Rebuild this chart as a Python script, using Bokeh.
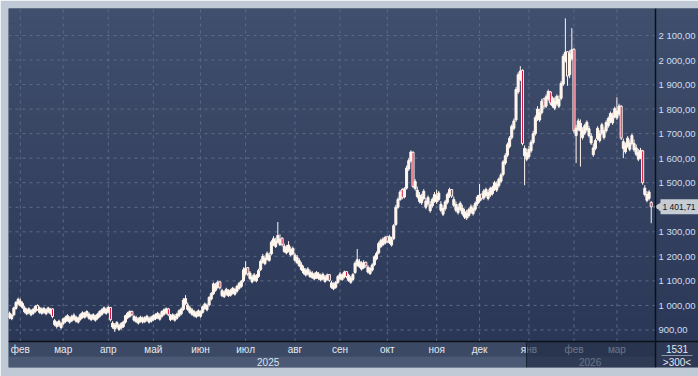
import math
from bokeh.plotting import figure
from bokeh.models import BoxAnnotation, Label, ColumnDataSource, Range1d, Span
from bokeh.core.properties import value
from bokeh.embed import file_html
from bokeh.resources import INLINE
import pandas as pd

# ---------------- data ----------------
OPEN = [
    950, 946, 962, 988, 1006, 1000, 992, 974, 966, 970,
    962, 968, 976, 1000, 972, 968, 972, 966, 974, 968,
    986, 922, 914, 920, 910, 926, 934, 940, 932, 938,
    944, 936, 932, 944, 952, 952, 958, 948, 942, 946,
    940, 948, 956, 964, 972, 968, 974, 992, 912, 904,
    912, 902, 908, 914, 932, 950, 956, 976, 940, 934,
    928, 936, 932, 934, 940, 932, 936, 942, 946, 950,
    944, 956, 964, 970, 986, 942, 946, 940, 948, 958,
    966, 984, 1008, 984, 972, 964, 958, 954, 960, 956,
    972, 988, 982, 1002, 1026, 1048, 1062, 1074, 1096, 1040,
    1036, 1046, 1040, 1042, 1050, 1046, 1058, 1070, 1078, 1100,
    1128, 1154, 1110, 1096, 1104, 1100, 1118, 1146, 1176, 1170,
    1188, 1184, 1210, 1248, 1240, 1258, 1248, 1274, 1220, 1214,
    1222, 1206, 1210, 1184, 1174, 1162, 1146, 1132, 1124, 1128,
    1118, 1114, 1108, 1114, 1110, 1104, 1108, 1098, 1106, 1126,
    1074, 1068, 1074, 1094, 1108, 1106, 1116, 1138, 1102, 1094,
    1106, 1134, 1164, 1158, 1148, 1154, 1176, 1136, 1130, 1144,
    1166, 1190, 1214, 1240, 1248, 1254, 1280, 1256, 1246, 1272,
    1330, 1400, 1432, 1472, 1442, 1478, 1556, 1590, 1624, 1476,
    1444, 1424, 1418, 1436, 1400, 1414, 1386, 1406, 1426, 1422,
    1432, 1388, 1372, 1394, 1420, 1446, 1472, 1408, 1388, 1378,
    1392, 1374, 1360, 1356, 1366, 1380, 1374, 1392, 1414, 1426,
    1454, 1438, 1448, 1436, 1450, 1456, 1474, 1470, 1488, 1506,
    1534, 1580, 1612, 1648, 1684, 1722, 1756, 1870, 1922, 1958,
    1610, 1596, 1606, 1630, 1664, 1700, 1760, 1756, 1786, 1842,
    1812, 1842, 1870, 1814, 1804, 1822, 1812, 1844, 1902, 1998,
    2034, 1940, 2006, 2044, 1692, 1718, 1712, 1684, 1702, 1716,
    1692, 1662, 1614, 1640, 1680, 1672, 1702, 1684, 1712, 1732,
    1750, 1744, 1770, 1764, 1780, 1812, 1640, 1626, 1650, 1636,
    1660, 1634, 1616, 1596, 1604, 1630, 1452, 1428, 1436, 1420,
]
HIGH = [
    975, 966, 995, 1018, 1032, 1028, 1016, 998, 990, 992,
    985, 990, 1002, 1004, 996, 992, 994, 988, 995, 990,
    988, 945, 936, 942, 932, 950, 958, 964, 956, 962,
    968, 958, 955, 968, 976, 974, 980, 972, 965, 968,
    962, 970, 980, 988, 996, 992, 998, 994, 936, 928,
    936, 926, 932, 938, 962, 974, 980, 978, 962, 958,
    952, 958, 955, 956, 962, 955, 958, 964, 968, 974,
    968, 980, 988, 992, 990, 965, 968, 964, 970, 984,
    992, 1030, 1042, 1012, 998, 990, 982, 978, 984, 980,
    1000, 1012, 1008, 1038, 1055, 1094, 1092, 1102, 1098, 1068,
    1062, 1072, 1066, 1068, 1076, 1072, 1084, 1096, 1104, 1155,
    1180, 1156, 1140, 1126, 1132, 1128, 1150, 1188, 1210, 1204,
    1220, 1216, 1266, 1282, 1276, 1340, 1290, 1278, 1252, 1246,
    1262, 1240, 1240, 1214, 1206, 1192, 1176, 1162, 1152, 1156,
    1146, 1140, 1134, 1140, 1136, 1130, 1134, 1124, 1130, 1128,
    1100, 1094, 1100, 1124, 1136, 1132, 1142, 1140, 1130, 1120,
    1132, 1180, 1230, 1190, 1180, 1184, 1178, 1164, 1158, 1172,
    1204, 1220, 1260, 1272, 1278, 1284, 1282, 1288, 1280, 1332,
    1410, 1440, 1470, 1478, 1482, 1570, 1600, 1632, 1628, 1515,
    1484, 1462, 1455, 1474, 1438, 1448, 1425, 1440, 1462, 1472,
    1466, 1425, 1408, 1430, 1460, 1480, 1474, 1444, 1424, 1414,
    1424, 1410, 1394, 1390, 1398, 1412, 1408, 1424, 1450, 1495,
    1456, 1474, 1480, 1472, 1484, 1488, 1508, 1506, 1522, 1540,
    1592, 1620, 1664, 1690, 1738, 1762, 1890, 1950, 1975, 1962,
    1652, 1640, 1650, 1675, 1712, 1775, 1812, 1802, 1842, 1846,
    1860, 1880, 1874, 1852, 1848, 1860, 1856, 1915, 2025, 2170,
    2036, 2040, 2130, 2048, 1735, 1762, 1758, 1726, 1740, 1754,
    1732, 1702, 1660, 1680, 1730, 1714, 1744, 1726, 1754, 1770,
    1790, 1786, 1810, 1848, 1822, 1816, 1680, 1664, 1690, 1676,
    1700, 1676, 1656, 1638, 1642, 1634, 1490, 1466, 1470, 1425,
]
LOW = [
    944, 940, 956, 982, 1000, 994, 986, 968, 960, 964,
    956, 962, 970, 978, 966, 962, 966, 960, 968, 962,
    948, 915, 906, 912, 902, 920, 928, 934, 926, 932,
    938, 930, 926, 938, 946, 946, 952, 942, 936, 940,
    934, 942, 950, 958, 966, 962, 968, 935, 905, 892,
    906, 896, 902, 908, 926, 944, 950, 956, 934, 928,
    922, 930, 926, 928, 934, 926, 930, 936, 940, 944,
    938, 950, 958, 964, 956, 936, 940, 934, 942, 952,
    960, 978, 1002, 978, 966, 958, 952, 948, 954, 950,
    966, 982, 976, 996, 1020, 1042, 1056, 1068, 1065, 1034,
    1030, 1040, 1034, 1036, 1044, 1040, 1052, 1064, 1072, 1094,
    1122, 1120, 1104, 1090, 1098, 1094, 1112, 1140, 1170, 1164,
    1182, 1178, 1204, 1242, 1234, 1252, 1242, 1240, 1214, 1208,
    1216, 1200, 1204, 1178, 1168, 1156, 1140, 1126, 1118, 1122,
    1112, 1108, 1102, 1108, 1104, 1098, 1102, 1092, 1100, 1096,
    1068, 1062, 1068, 1088, 1102, 1100, 1110, 1110, 1096, 1088,
    1100, 1128, 1158, 1152, 1142, 1148, 1154, 1130, 1124, 1138,
    1160, 1184, 1208, 1234, 1242, 1248, 1254, 1250, 1240, 1266,
    1324, 1394, 1426, 1432, 1436, 1472, 1548, 1582, 1478, 1468,
    1436, 1416, 1410, 1428, 1392, 1406, 1378, 1398, 1418, 1414,
    1424, 1380, 1364, 1386, 1412, 1438, 1438, 1400, 1380, 1370,
    1384, 1366, 1352, 1348, 1358, 1372, 1366, 1384, 1406, 1418,
    1428, 1430, 1440, 1428, 1442, 1448, 1466, 1462, 1480, 1498,
    1526, 1572, 1604, 1640, 1676, 1714, 1748, 1862, 1914, 1652,
    1490, 1588, 1598, 1622, 1656, 1692, 1752, 1748, 1778, 1800,
    1804, 1834, 1816, 1806, 1796, 1814, 1804, 1836, 1894, 1990,
    1895, 1926, 1998, 1700, 1580, 1710, 1566, 1676, 1694, 1708,
    1684, 1654, 1606, 1632, 1672, 1664, 1694, 1676, 1704, 1724,
    1742, 1736, 1762, 1756, 1772, 1674, 1600, 1618, 1642, 1628,
    1652, 1626, 1608, 1588, 1596, 1492, 1444, 1420, 1428, 1335,
]
CLOSE = [
    968, 960, 990, 1012, 1025, 1018, 1008, 990, 982, 986,
    978, 984, 996, 984, 990, 985, 988, 982, 990, 984,
    955, 938, 930, 936, 925, 945, 950, 958, 948, 955,
    960, 952, 948, 962, 970, 968, 975, 965, 958, 962,
    956, 964, 975, 982, 990, 984, 992, 942, 928, 920,
    930, 918, 925, 932, 958, 968, 975, 962, 955, 950,
    944, 952, 948, 950, 956, 948, 952, 958, 962, 968,
    960, 975, 982, 986, 962, 958, 962, 956, 965, 978,
    985, 1022, 1028, 1002, 990, 982, 975, 970, 978, 972,
    995, 1006, 1000, 1032, 1048, 1088, 1082, 1095, 1072, 1060,
    1055, 1066, 1058, 1062, 1070, 1065, 1078, 1090, 1098, 1145,
    1152, 1128, 1132, 1116, 1124, 1120, 1142, 1180, 1200, 1192,
    1212, 1205, 1258, 1272, 1262, 1285, 1270, 1248, 1242, 1235,
    1246, 1228, 1232, 1205, 1195, 1182, 1165, 1150, 1142, 1148,
    1136, 1132, 1125, 1134, 1128, 1122, 1126, 1116, 1124, 1102,
    1092, 1086, 1094, 1118, 1128, 1124, 1136, 1118, 1122, 1112,
    1126, 1172, 1186, 1178, 1168, 1175, 1162, 1156, 1150, 1165,
    1198, 1212, 1252, 1264, 1270, 1276, 1262, 1280, 1268, 1325,
    1400, 1432, 1462, 1440, 1475, 1560, 1590, 1625, 1485, 1505,
    1470, 1450, 1442, 1465, 1425, 1440, 1410, 1432, 1452, 1446,
    1458, 1412, 1395, 1422, 1452, 1472, 1446, 1432, 1412, 1400,
    1416, 1396, 1382, 1376, 1390, 1402, 1396, 1416, 1442, 1450,
    1436, 1466, 1472, 1460, 1476, 1480, 1500, 1495, 1515, 1532,
    1585, 1610, 1655, 1682, 1730, 1752, 1880, 1940, 1955, 1660,
    1640, 1622, 1636, 1665, 1700, 1765, 1800, 1785, 1832, 1812,
    1850, 1872, 1825, 1845, 1832, 1852, 1840, 1905, 2015, 2032,
    1935, 2025, 2042, 1712, 1722, 1752, 1742, 1712, 1732, 1746,
    1720, 1690, 1642, 1672, 1722, 1700, 1736, 1712, 1745, 1762,
    1782, 1772, 1802, 1792, 1812, 1682, 1668, 1652, 1682, 1662,
    1692, 1660, 1642, 1622, 1632, 1500, 1478, 1452, 1462, 1401.71,
]
FIRST_DAY = "2025-01-27"
HOLIDAYS = ["2025-04-18", "2026-01-01"]
MONTH_LABELS = ["фев", "мар", "апр", "май", "июн", "июл", "авг", "сен",
                "окт", "ноя", "дек", "янв", "фев", "мар"]
YEARS = [2025, 2026]
YEAR_LABELS = ["2025", "2026"]
Y_TICKS = [900, 1000, 1100, 1200, 1300, 1400, 1500, 1600, 1700, 1800, 1900, 2000, 2100]
Y_TICK_LABELS = ["900,00", "1 000,00", "1 100,00", "1 200,00", "1 300,00", "1 400,00",
                 "1 500,00", "1 600,00", "1 700,00", "1 800,00", "1 900,00", "2 000,00",
                 "2 100,00"]
LAST_PRICE_LABEL = "1 401,71"
TOTAL_BARS_LABEL = "1531"
VISIBLE_BARS_LABEL = ">300<"

# ---------------- layout (canvas pixels) & styling ----------------
FRAME_L, FRAME_T, FRAME_W, FRAME_H = 8, 8, 690, 359
SCALE_X = 655          # price-scale separator
TIME_Y = 341           # time-scale separator
BAND_Y = 356           # month band / year band border
SHADE_X = 526          # start of darker (2026) part of the time scale
PX_PER_BAR = 2.146
PX_PER_UNIT = 0.2454
X0 = -0.5
X1 = X0 + FRAME_W / PX_PER_BAR
Y1 = 2210.0
Y0 = Y1 - FRAME_H / PX_PER_UNIT


def dx(cx):
    return X0 + (cx - FRAME_L) / PX_PER_BAR


def dy(cy):
    return Y1 - (cy - FRAME_T) / PX_PER_UNIT


GRAY = "#c0c9d6"
UP = "#fff6ee"
DOWN = "#d3143f"
GRID = "#5d6b88"
BLACK = "#0c1019"
TAG = "#c6ccd4"
FONT = "Liberation Sans"

n = len(CLOSE)
dates = pd.bdate_range(FIRST_DAY, periods=n + 20)
dates = dates[~dates.isin(pd.to_datetime(HOLIDAYS))][:n]
xs = list(range(n))

month_ticks = [i for i in range(1, n) if dates[i].month != dates[i - 1].month]
year_pos = []
for yr in YEARS:
    ids = [i for i in range(n) if dates[i].year == yr]
    year_pos.append((ids[0] + ids[-1]) / 2)

src = ColumnDataSource(dict(
    x=xs, o=OPEN, h=HIGH, l=LOW, c=CLOSE,
    top=[max(a, b) for a, b in zip(OPEN, CLOSE)],
    bottom=[min(a, b) for a, b in zip(OPEN, CLOSE)],
    fill=[UP if c >= o else DOWN for o, c in zip(OPEN, CLOSE)],
))

p = figure(width=698, height=376, frame_width=FRAME_W, frame_height=FRAME_H,
           x_range=Range1d(X0, X1), y_range=Range1d(Y0, Y1),
           output_backend="svg", toolbar_location=None,
           x_axis_location=None, y_axis_location=None,
           min_border_left=FRAME_L, min_border_top=FRAME_T, min_border_right=0,
           min_border_bottom=376 - FRAME_T - FRAME_H,
           border_fill_color=GRAY, background_fill_color="#35425f",
           outline_line_color=None)
for g in p.grid:
    g.visible = False

# gradient background of chart + price scale
NS = 44
c_top = (64, 79, 109)
c_bot = (43, 55, 86)
yb, yt = dy(TIME_Y), Y1
for k in range(NS):
    f = (k + 0.5) / NS
    col = tuple(int(round(c_bot[j] + (c_top[j] - c_bot[j]) * f)) for j in range(3))
    b = yb + (yt - yb) * k / NS
    t = yb + (yt - yb) * (k + 1) / NS + 2
    p.add_layout(BoxAnnotation(bottom=b, top=t, fill_color="#%02x%02x%02x" % col,
                               fill_alpha=1.0, line_color=None, level="image"))

# time-scale bands
p.add_layout(BoxAnnotation(top=dy(TIME_Y), bottom=dy(BAND_Y), right=dx(SCALE_X),
                           fill_color="#3c4965", fill_alpha=1.0, line_color=None, level="image"))
p.add_layout(BoxAnnotation(top=dy(BAND_Y), bottom=Y0, right=dx(SCALE_X),
                           fill_color="#4b5975", fill_alpha=1.0, line_color=None, level="image"))
# corner box
p.add_layout(BoxAnnotation(top=dy(TIME_Y), bottom=Y0, left=dx(SCALE_X),
                           fill_color="#2d3955", fill_alpha=1.0, line_color=None, level="image"))

# grid lines (dashed)
plot_right = dx(SCALE_X)
plot_bottom = dy(TIME_Y)
p.segment(x0=[X0] * len(Y_TICKS), y0=Y_TICKS, x1=[plot_right] * len(Y_TICKS), y1=Y_TICKS,
          line_color=GRID, line_dash="3 4", line_width=1)
p.segment(x0=month_ticks, y0=[plot_bottom] * len(month_ticks), x1=month_ticks,
          y1=[Y1] * len(month_ticks), line_color=GRID, line_dash="3 4", line_width=1)

# candles
p.segment(x0="x", y0="l", x1="x", y1="h", source=src, line_color=UP, line_width=1)
p.vbar(x="x", width=0.95, top="top", bottom="bottom", source=src,
       fill_color="fill", line_color=UP, line_width=1)

# price scale labels
p.text(x=[dx(SCALE_X + 3)] * len(Y_TICKS), y=Y_TICKS, text=Y_TICK_LABELS,
       text_align="left", text_baseline="middle", text_font=value(FONT),
       text_font_size="9.5px", text_color="#d2ddef")

# month labels and year labels
month_y = (dy(TIME_Y) + dy(BAND_Y)) / 2
year_y = (dy(BAND_Y) + Y0) / 2
p.text(x=month_ticks, y=[month_y] * len(month_ticks), text=MONTH_LABELS,
       text_align="center", text_baseline="middle", text_font=value(FONT),
       text_font_size="10px", text_color="#e3e9f3")
p.text(x=year_pos, y=[year_y] * len(year_pos), text=YEAR_LABELS,
       text_align="center", text_baseline="middle", text_font=value(FONT),
       text_font_size="10px", text_color="#dde4ef")

# darker (2026) part of the time scale
p.add_layout(BoxAnnotation(top=dy(TIME_Y), bottom=Y0, left=dx(SHADE_X), right=dx(SCALE_X),
                           fill_color="#1e2840", fill_alpha=0.62, line_color=None))
p.segment(x0=[dx(SHADE_X)], y0=[Y0], x1=[dx(SHADE_X)], y1=[dy(TIME_Y)],
          line_color="#161d2d", line_width=1)

# corner box texts
corner_x = (dx(SCALE_X) + X1) / 2
p.text(x=[corner_x, corner_x], y=[dy(348.5), dy(361.5)],
       text=[TOTAL_BARS_LABEL, VISIBLE_BARS_LABEL], text_align="center",
       text_baseline="middle", text_font=value(FONT), text_font_size="10px",
       text_color="#e2e8f2")
p.segment(x0=[dx(661)], y0=[dy(355)], x1=[dx(692)], y1=[dy(355)],
          line_color="#8a95aa", line_width=1)

# separators
p.add_layout(Span(location=dx(SCALE_X), dimension="height", line_color=BLACK, line_width=1.5))
p.add_layout(Span(location=dy(TIME_Y), dimension="width", line_color=BLACK, line_width=1.5))

# last price tag
half_h = 7.5 / PX_PER_UNIT
p.scatter(x=[dx(SCALE_X + 4)], y=[CLOSE[-1]], marker="triangle", angle=math.pi / 2,
          size=10, fill_color=TAG, line_color=None)
p.add_layout(BoxAnnotation(left=dx(660), right=X1, bottom=CLOSE[-1] - half_h,
                           top=CLOSE[-1] + half_h, fill_color=TAG, fill_alpha=1.0,
                           line_color=None))
p.add_layout(Label(x=dx(662), y=CLOSE[-1], text=LAST_PRICE_LABEL,
                   text_align="left", text_baseline="middle",
                   text_font=FONT, text_font_size="8.5px", text_color="#10141c"))

open("out.html", "w").write(file_html(p, INLINE, title="chart"))
